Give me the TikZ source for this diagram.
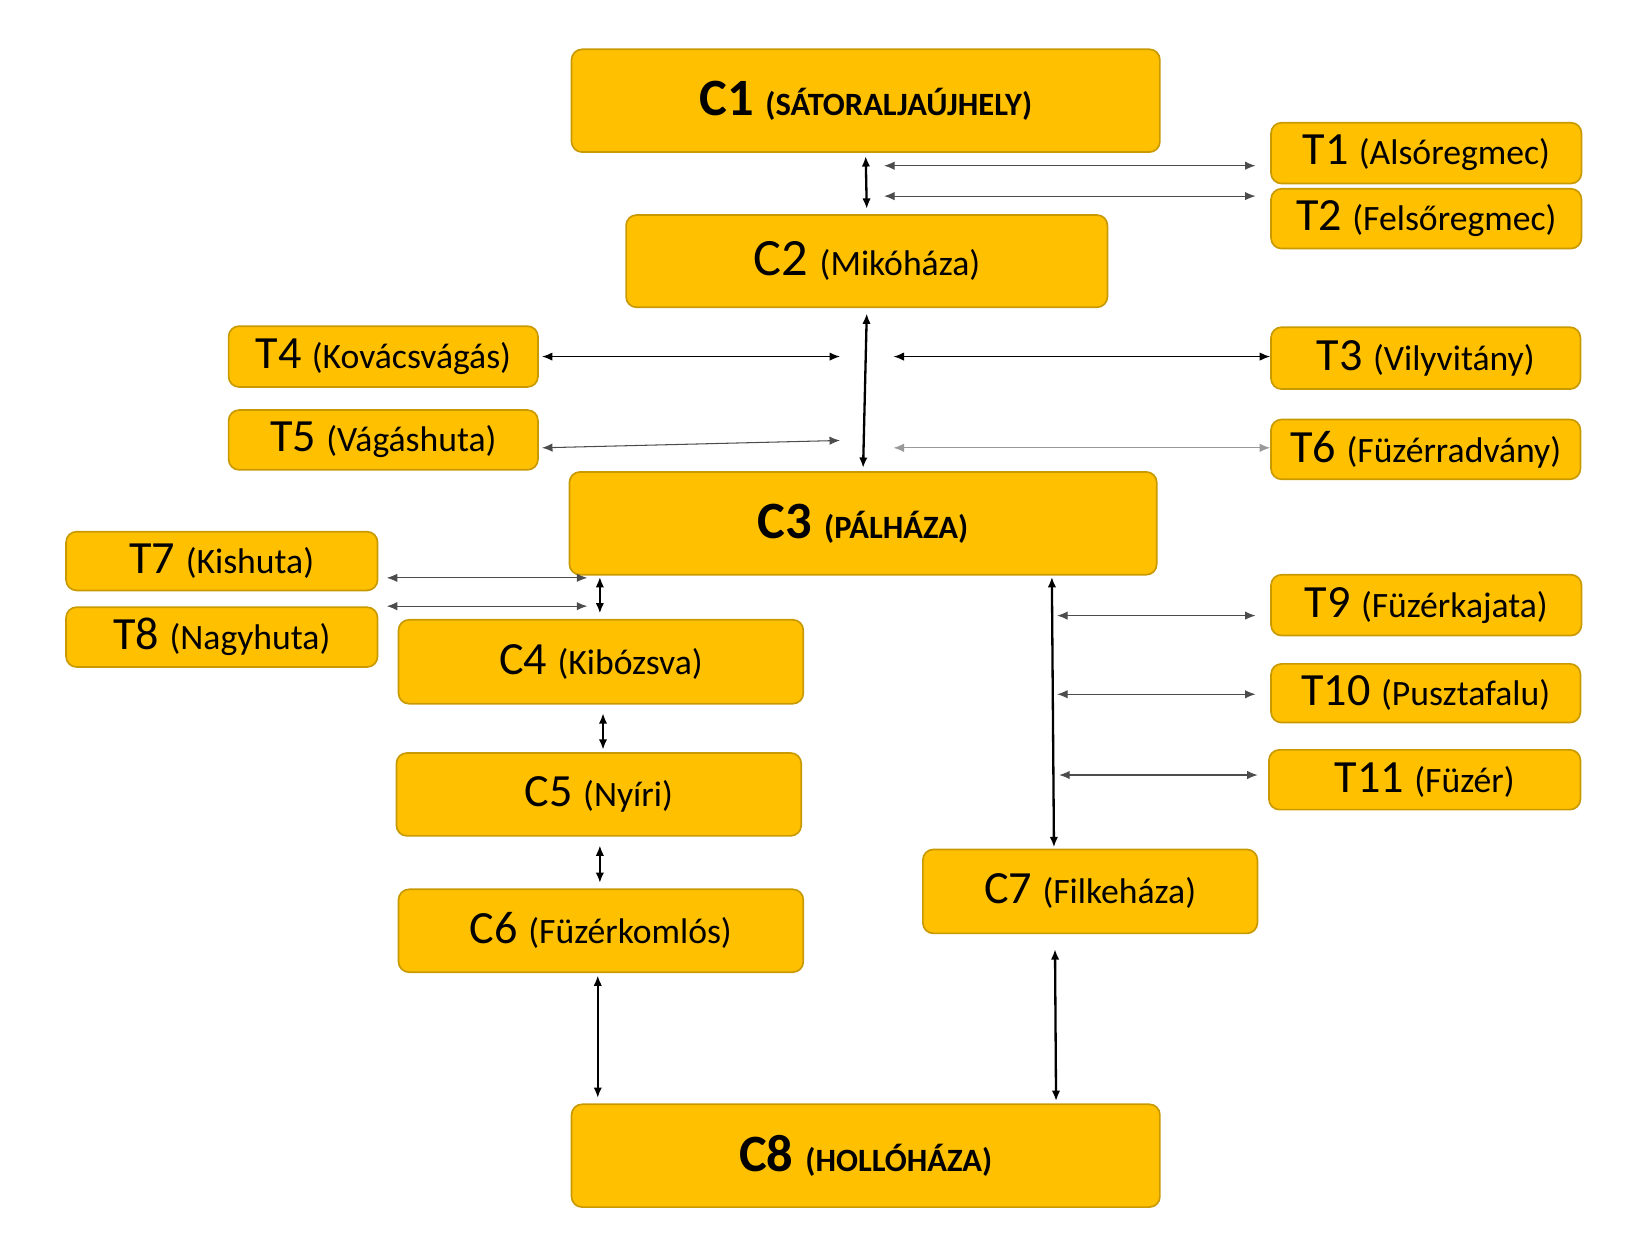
\documentclass[tikz,border=0pt]{standalone}
\usepackage{fontspec}
\setmainfont{Carlito}
\usetikzlibrary{arrows.meta}
\definecolor{boxfill}{HTML}{FFC000}
\definecolor{boxline}{HTML}{C99A00}
\begin{document}
\begin{tikzpicture}[x=0.5pt,y=-0.5pt,
  box/.style={draw=boxline,line width=0.8pt,fill=boxfill,rounded corners=5pt,inner sep=0pt},
  big/.style={font=\fontsize{25}{28}\selectfont},
  tl/.style={font=\fontsize{22}{26}\selectfont},
  par/.style={font=\fontsize{17}{20}\selectfont},
  con/.style={{Latex[length=5pt,width=4pt]}-{Latex[length=5pt,width=4pt]},line width=1.1pt},
  thin/.style={{Latex[length=5pt,width=4pt]}-{Latex[length=5pt,width=4pt]},line width=0.5pt,draw=black!70}]
\useasboundingbox (0,0) rectangle (1560,1180);
\newcommand{\bx}[7]{\node[box,minimum width=#4*0.5pt,minimum height=#5*0.5pt] (#1) at (#2,#3) {#6#7};}
% C boxes
\bx{c1}{825.5}{96}{561}{98}{\bfseries\fontsize{25}{28}\selectfont C1 }{{\fontsize{15.5}{18}\selectfont\bfseries(SÁTORALJAÚJHELY)}}
\bx{c2}{826.5}{249}{459}{88}{\fontsize{25}{28}\selectfont C2 }{{\fontsize{17}{20}\selectfont(Mikóháza)}}
\bx{c3}{823}{499}{560}{98}{\bfseries\fontsize{25}{28}\selectfont C3 }{{\fontsize{15.5}{18}\selectfont\bfseries(PÁLHÁZA)}}
\bx{c4}{573}{631}{386}{80}{\fontsize{22}{26}\selectfont C4 }{{\fontsize{17}{20}\selectfont(Kibózsva)}}
\bx{c5}{571}{757.5}{386}{79}{\fontsize{22}{26}\selectfont C5 }{{\fontsize{17}{20}\selectfont(Nyíri)}}
\bx{c6}{573}{887.5}{386}{79}{\fontsize{22}{26}\selectfont C6 }{{\fontsize{17}{20}\selectfont(Füzérkomlós)}}
\bx{c7}{1039.5}{850}{319}{80}{\fontsize{22}{26}\selectfont C7 }{{\fontsize{17}{20}\selectfont(Filkeháza)}}
\bx{c8}{825.5}{1102}{561}{98}{\bfseries\fontsize{25}{28}\selectfont C8 }{{\fontsize{15.5}{18}\selectfont\bfseries(HOLLÓHÁZA)}}
% T boxes
\bx{t1}{1360}{146}{296}{58}{\fontsize{22}{26}\selectfont T1 }{{\fontsize{17}{20}\selectfont(Alsóregmec)}}
\bx{t2}{1360}{208.5}{296}{57}{\fontsize{22}{26}\selectfont T2 }{{\fontsize{17}{20}\selectfont(Felsőregmec)}}
\bx{t3}{1359.5}{341.5}{295}{59}{\fontsize{22}{26}\selectfont T3 }{{\fontsize{17}{20}\selectfont(Vilyvitány)}}
\bx{t4}{365.5}{340}{295}{58}{\fontsize{22}{26}\selectfont T4 }{{\fontsize{17}{20}\selectfont(Kovácsvágás)}}
\bx{t5}{365.5}{419.5}{295}{57}{\fontsize{22}{26}\selectfont T5 }{{\fontsize{17}{20}\selectfont(Vágáshuta)}}
\bx{t6}{1359.5}{428.5}{295}{57}{\fontsize{22}{26}\selectfont T6 }{{\fontsize{17}{20}\selectfont(Füzérradvány)}}
\bx{t7}{211.5}{535}{297}{56}{\fontsize{22}{26}\selectfont T7 }{{\fontsize{17}{20}\selectfont(Kishuta)}}
\bx{t8}{211.5}{607.5}{297}{57}{\fontsize{22}{26}\selectfont T8 }{{\fontsize{17}{20}\selectfont(Nagyhuta)}}
\bx{t9}{1360}{577}{296}{58}{\fontsize{22}{26}\selectfont T9 }{{\fontsize{17}{20}\selectfont(Füzérkajata)}}
\bx{t10}{1359.5}{661}{295}{56}{\fontsize{22}{26}\selectfont T10 }{{\fontsize{17}{20}\selectfont(Pusztafalu)}}
\bx{t11}{1358.5}{743.5}{297}{57}{\fontsize{22}{26}\selectfont T11 }{{\fontsize{17}{20}\selectfont(Füzér)}}
% connector free ends
\coordinate (a1) at (843,158); \coordinate (a2) at (843,187);
\coordinate (b4) at (801,340); \coordinate (b3) at (852,340);
\coordinate (b5) at (801,420); \coordinate (b6) at (852,427);
\coordinate (d7) at (560,551); \coordinate (d8) at (560,578);
\coordinate (e9) at (1008,587); \coordinate (e10) at (1008,662); \coordinate (e11) at (1010,739);
% vertical
\draw[con] ([yshift=-3*0.5pt]c1.south) -- ([yshift=5*0.5pt]c2.north);
\draw[con] ([yshift=-5*0.5pt]c2.south) -- ([yshift=3*0.5pt]c3.north);
\draw[con] (572,550) -- (572,585);
\draw[con] (575,680) -- (575,715);
\draw[con] (572,806) -- (572,842);
\draw[con] (570,930) -- (570,1047);
\draw[con] (1003,550) -- (1005,808);
\draw[con] (1006,905) -- (1007,1050);
% horizontal
\draw[thin] (a1) -- ([xshift=-14*0.5pt]t1.west|-a1);
\draw[thin] (a2) -- ([xshift=-14*0.5pt]t2.west|-a2);
\draw[con,line width=0.7pt] ([xshift=3*0.5pt]t4.east|-b4) -- (b4);
\draw[con,line width=0.7pt] (b3) -- (t3.west|-b3);
\draw[thin] ([xshift=3*0.5pt]t5.east|-b6) -- (b5);
\draw[thin,draw=black!40] (b6) -- (t6.west|-b6);
\draw[thin] ([xshift=8*0.5pt]t7.east|-d7) -- (d7);
\draw[thin] ([xshift=8*0.5pt]t8.east|-d8) -- (d8);
\draw[thin] (e9) -- ([xshift=-14*0.5pt]t9.west|-e9);
\draw[thin] (e10) -- ([xshift=-14*0.5pt]t10.west|-e10);
\draw[thin] (e11) -- ([xshift=-10*0.5pt]t11.west|-e11);
\end{tikzpicture}
\end{document}
